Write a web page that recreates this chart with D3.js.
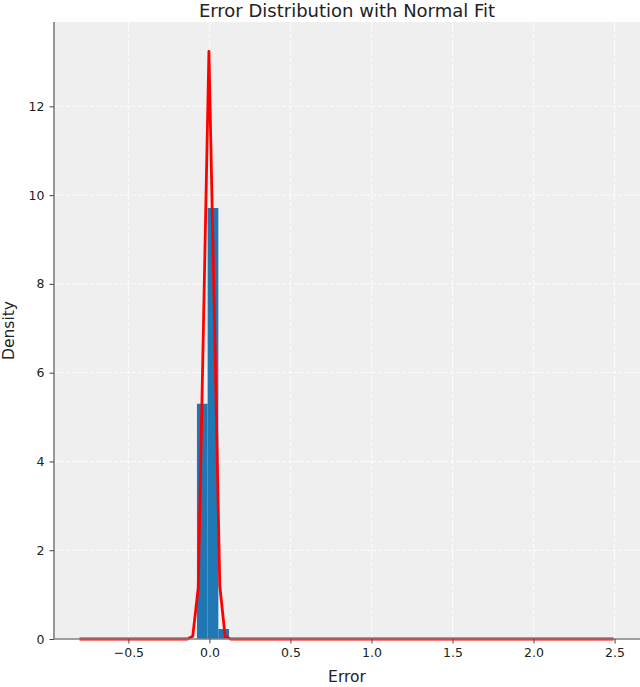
<!DOCTYPE html>
<html>
<head>
<meta charset="utf-8">
<script src="https://cdn.jsdelivr.net/npm/d3@7"></script>
<style>
  html, body { margin: 0; padding: 0; background: #ffffff; }
  svg { display: block; }
  text { font-family: "DejaVu Sans", sans-serif; }
</style>
</head>
<body>
<div id="chart"></div>
<script>
// ---- data ----
const title = "Error Distribution with Normal Fit";
const xLabel = "Error";
const yLabel = "Density";

// histogram: 50 bins from data min to data max
const binStart = -0.802;
const binEnd = 2.494;
const binCount = 50;
// non-empty bins (index, density)
const binIndex = [11, 12, 13];
const binDensity = [5.30, 9.71, 0.225];

// normal fit line (sample points)
const fitX = [-0.802, -0.136, -0.103, -0.069, -0.036, -0.003, 0.031, 0.064, 0.097, 0.131, 2.494];
const fitY = [0, 0.0, 0.06, 1.15, 7.2, 13.24, 7.25, 1.2, 0.06, 0.0, 0];

const xTicks = [-0.5, 0.0, 0.5, 1.0, 1.5, 2.0, 2.5];
const yTicks = [0, 2, 4, 6, 8, 10, 12];
const xDomain = [-0.959, 2.657];
const yDomain = [0, 13.9];

// ---- layout ----
const W = 640, H = 687;
const margin = { left: 54, right: 0, top: 22, bottom: 48 };
const plotW = W - margin.left - margin.right;
const plotH = H - margin.top - margin.bottom;

const svg = d3.select("#chart").append("svg")
  .attr("width", W).attr("height", H);

const x = d3.scaleLinear().domain(xDomain).range([margin.left, W - margin.right]);
const y = d3.scaleLinear().domain(yDomain).range([H - margin.bottom, margin.top]);

// background
svg.append("rect")
  .attr("x", margin.left).attr("y", margin.top)
  .attr("width", plotW).attr("height", plotH)
  .attr("fill", "#efefef");

// grid
const grid = svg.append("g");
grid.selectAll(".vg").data(xTicks).enter().append("line")
  .attr("x1", d => x(d)).attr("x2", d => x(d))
  .attr("y1", margin.top).attr("y2", H - margin.bottom)
  .attr("stroke", "#ffffff").attr("stroke-width", 0.9)
  .attr("stroke-dasharray", "4,2");
grid.selectAll(".hg").data(yTicks.filter(d => d > 0)).enter().append("line")
  .attr("x1", margin.left).attr("x2", W - margin.right)
  .attr("y1", d => y(d)).attr("y2", d => y(d))
  .attr("stroke", "#ffffff").attr("stroke-width", 0.9)
  .attr("stroke-dasharray", "4,2");

// histogram bars
const binW = (binEnd - binStart) / binCount;
const bars = binIndex.map((b, i) => ({ x0: binStart + b * binW, x1: binStart + (b + 1) * binW, v: binDensity[i] }));
svg.append("g").selectAll("rect").data(bars).enter().append("rect")
  .attr("x", d => x(d.x0))
  .attr("width", d => x(d.x1) - x(d.x0))
  .attr("y", d => y(d.v))
  .attr("height", d => y(0) - y(d.v))
  .attr("fill", "#1f77b4");

// normal fit line
const pts = fitX.map((v, i) => [v, fitY[i]]);
svg.append("path")
  .datum(pts)
  .attr("d", d3.line().x(d => x(d[0])).y(d => y(d[1])))
  .attr("fill", "none")
  .attr("stroke", "#ff0000")
  .attr("stroke-width", 2.8)
  .attr("stroke-linejoin", "round");

// axes
const fmtX = d => d3.format(".1f")(d).replace("-", "\u2212");
const xAxis = svg.append("g")
  .attr("transform", `translate(0,${H - margin.bottom})`)
  .call(d3.axisBottom(x).tickValues(xTicks).tickFormat(fmtX).tickSize(4.5).tickPadding(5));
const yAxis = svg.append("g")
  .attr("transform", `translate(${margin.left},0)`)
  .call(d3.axisLeft(y).tickValues(yTicks).tickFormat(d3.format("d")).tickSize(4.5).tickPadding(5));

[xAxis, yAxis].forEach(a => {
  a.select(".domain").attr("stroke", "#808080").attr("stroke-width", 1.6);
  a.selectAll(".tick line").attr("stroke", "#444").attr("stroke-width", 1);
  a.selectAll(".tick text").attr("fill", "#222").attr("font-size", "12.5px")
    .attr("font-family", "DejaVu Sans, sans-serif");
});
xAxis.select(".domain").attr("d", `M${margin.left},0H${W - margin.right}`);
yAxis.select(".domain").attr("d", `M0,${margin.top}V${H - margin.bottom}`);

// title
svg.append("text")
  .attr("x", margin.left + plotW / 2).attr("y", 17)
  .attr("text-anchor", "middle")
  .attr("font-size", "18px").attr("fill", "#222")
  .text(title);

// axis labels
svg.append("text")
  .attr("x", margin.left + plotW / 2).attr("y", 682)
  .attr("text-anchor", "middle")
  .attr("font-size", "15.5px").attr("fill", "#222")
  .text(xLabel);

svg.append("text")
  .attr("transform", `translate(14,${margin.top + plotH / 2}) rotate(-90)`)
  .attr("text-anchor", "middle")
  .attr("font-size", "15.5px").attr("fill", "#222")
  .text(yLabel);
</script>
</body>
</html>
